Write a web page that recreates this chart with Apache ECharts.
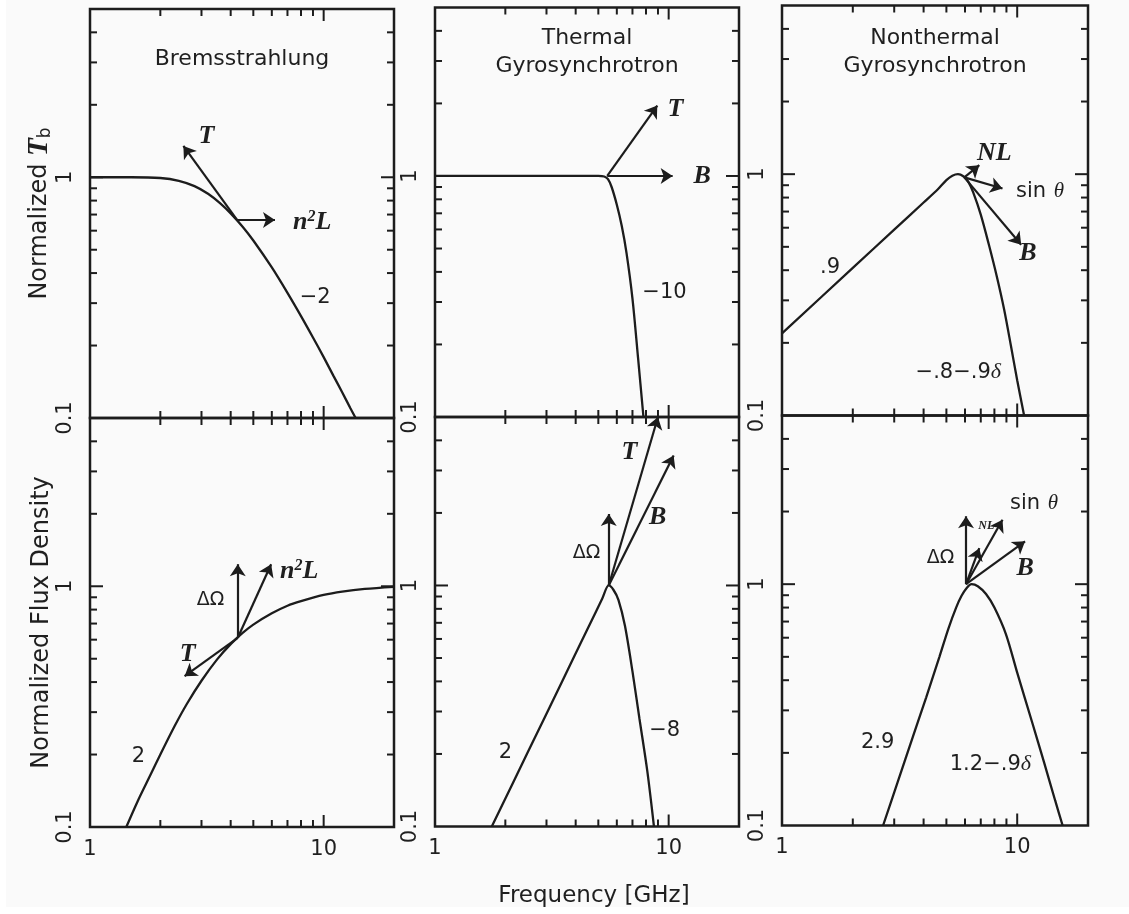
<!DOCTYPE html>
<html>
<head>
<meta charset="utf-8">
<title>Radio emission mechanisms</title>
<script src="https://cdn.jsdelivr.net/npm/echarts@6/dist/echarts.min.js"></script>
<style>
  html, body { margin: 0; padding: 0; background: #fafafa; }
  #chart { width: 1129px; height: 914px; }
</style>
</head>
<body>
<div id="chart"></div>
<script>
// ---- axes (log scaled) ----
const freqRange = [1, 20];            // GHz
const levelRange = [0.1, 5];          // normalised units
const freqLabels = [1, 10];
const levelLabels = [0.1, 1];
const freqMinorTicks = [2, 3, 4, 5, 6, 7, 8, 9];
const freqMajorTicks = [10];
const levelMinorTicks = [0.2, 0.3, 0.4, 0.5, 0.6, 0.7, 0.8, 0.9, 2, 3, 4];
const levelMajorTicks = [1];

// ---- brightness temperature spectra ----
const bremsTbFreq = [1, 1.5, 2, 2.4, 2.8, 3.2, 3.6, 4.0, 4.5, 5, 6, 7, 8, 9, 10, 11, 12, 13, 13.7];
const bremsTbVal  = [1.0, 1.0, 0.993, 0.967, 0.919, 0.854, 0.781, 0.708, 0.623, 0.546, 0.422, 0.331, 0.265, 0.216, 0.179, 0.150, 0.128, 0.110, 0.100];

const thermTbFreq = [1, 2, 3, 4, 5, 5.3, 5.5, 5.7, 6.0, 6.3, 6.6, 7.0, 7.4, 7.8];
const thermTbVal  = [1, 1, 1, 1, 1, 0.995, 0.97, 0.90, 0.76, 0.62, 0.48, 0.31, 0.175, 0.10];

const nonthTbFreq = [1, 2, 3, 4, 4.6, 5.0, 5.3, 5.6, 5.9, 6.2, 6.5, 7.0, 7.6, 8.2, 8.8, 9.4, 10.0, 10.7];
const nonthTbVal  = [0.219, 0.409, 0.589, 0.763, 0.866, 0.945, 0.985, 1.0, 0.98, 0.93, 0.84, 0.68, 0.505, 0.375, 0.275, 0.195, 0.14, 0.10];

// ---- flux density spectra ----
const bremsFluxFreq = [1.43, 1.6, 1.8, 2.0, 2.3, 2.6, 3.0, 3.5, 4.0, 4.5, 5, 6, 7, 8, 10, 12, 15, 20];
const bremsFluxVal  = [0.10, 0.128, 0.162, 0.20, 0.262, 0.325, 0.405, 0.497, 0.575, 0.64, 0.693, 0.772, 0.83, 0.867, 0.92, 0.95, 0.975, 0.995];

const thermFluxFreq = [1.75, 2.5, 3.5, 4.5, 5.2, 5.54, 5.8, 6.1, 6.5, 7.0, 7.5, 8.1, 8.65];
const thermFluxVal  = [0.10, 0.204, 0.40, 0.661, 0.883, 1.0, 0.96, 0.87, 0.68, 0.44, 0.28, 0.17, 0.10];

const nonthFluxFreq = [2.69, 3.1, 3.6, 4.1, 4.67, 5.1, 5.5, 5.8, 6.1, 6.4, 6.8, 7.37, 8.0, 8.96, 10, 11.6, 13, 14.5, 15.6];
const nonthFluxVal  = [0.10, 0.151, 0.233, 0.339, 0.50, 0.655, 0.80, 0.895, 0.965, 1.0, 0.98, 0.91, 0.80, 0.62, 0.43, 0.266, 0.183, 0.127, 0.10];

// ---- parameter-dependence arrows: [origin, tip] in (GHz, level) ----
const bremsTbArrows = [[[4.26, 0.665], [2.51, 1.35]], [[4.26, 0.665], [6.19, 0.665]]];
const thermTbArrows = [[[5.46, 1.0], [8.94, 1.96]], [[5.46, 1.0], [10.4, 1.0]]];
const nonthTbArrows = [[[5.96, 0.97], [6.9, 1.09]], [[5.96, 0.97], [8.66, 0.872]], [[5.96, 0.97], [10.4, 0.51]]];
const bremsFluxArrows = [[[4.29, 0.611], [4.29, 1.235]], [[4.29, 0.611], [5.96, 1.235]], [[4.29, 0.611], [2.54, 0.423]]];
const thermFluxArrows = [[[5.54, 1.0], [5.54, 1.98]], [[5.54, 1.0], [9.0, 5.0]], [[5.54, 1.0], [10.5, 3.46]]];
const nonthFluxArrows = [[[6.06, 1.0], [6.06, 1.91]], [[6.06, 1.0], [6.9, 1.41]], [[6.06, 1.0], [8.66, 1.85]], [[6.06, 1.0], [10.8, 1.505]]];

// ---- annotations: [text, GHz, level] ----
const bremsTbNotes = [['{i|T}', 3.15, 1.475], ['{i|n}{sup|2}{i|L}', 8.93, 0.652], ['{s|\u22122}', 9.2, 0.318]];
const thermTbNotes = [['{i|T}', 10.7, 1.9], ['{i|B}', 13.9, 1.0], ['{s|\u221210}', 9.6, 0.329]];
const nonthTbNotes = [['{i|NL}', 7.99, 1.223], ['{s|sin}  {th|\u03b8}', 12.5, 0.85], ['{i|B}', 11.1, 0.469],
                      ['{s|.9}', 1.6, 0.41], ['{s|\u2212.8\u2212.9}{sd|\u03b4}', 5.62, 0.151]];
const bremsFluxNotes = [['{g|\u0394\u03a9}', 3.28, 0.88], ['{i|n}{sup|2}{i|L}', 7.86, 1.155], ['{i|T}', 2.62, 0.52], ['{s|2}', 1.61, 0.196]];
const thermFluxNotes = [['{i|T}', 6.8, 3.56], ['{i|B}', 8.97, 1.915], ['{g|\u0394\u03a9}', 4.45, 1.36], ['{s|2}', 2.0, 0.203], ['{s|\u22128}', 9.61, 0.25]];
const nonthFluxNotes = [['{s|sin}  {th|\u03b8}', 11.8, 2.16], ['{i|B}', 10.8, 1.16], ['{g|\u0394\u03a9}', 4.72, 1.28], ['{tiny|NL}', 7.39, 1.74],
                        ['{s|2.9}', 2.55, 0.22], ['{s|1.2\u2212.9}{sd|\u03b4}', 7.69, 0.179]];

const panelTitles = ['Bremsstrahlung', 'Thermal\nGyrosynchrotron', 'Nonthermal\nGyrosynchrotron'];

// ---- styling ----
const INK = '#1c1c1c';
const TXT = '#1f1f1f';
const SANS = 'DejaVu Sans';
const SERIF = 'Liberation Serif';

const noteRich = {
  i:    { fontFamily: SERIF, fontStyle: 'italic', fontWeight: 'bold', fontSize: 26, color: TXT },
  sup:  { fontFamily: SERIF, fontStyle: 'italic', fontWeight: 'bold', fontSize: 16, color: TXT, verticalAlign: 'top' },
  s:    { fontFamily: SANS, fontSize: 21, color: TXT },
  sd:   { fontFamily: SERIF, fontStyle: 'italic', fontSize: 22, color: TXT },
  th:   { fontFamily: SERIF, fontStyle: 'italic', fontSize: 21, color: TXT },
  g:    { fontFamily: SANS, fontSize: 19, color: TXT },
  tiny: { fontFamily: SERIF, fontStyle: 'italic', fontWeight: 'bold', fontSize: 12, color: TXT }
};

// column geometry (px) and row layout
const cols = [
  { left: 90,  width: 304, top: 9,   h: 409 },
  { left: 435, width: 304, top: 7.5, h: 409.5 },
  { left: 782, width: 306, top: 5.5, h: 410 }
];

const panels = [
  { f: bremsTbFreq,   v: bremsTbVal,   arrows: bremsTbArrows,   notes: bremsTbNotes },
  { f: thermTbFreq,   v: thermTbVal,   arrows: thermTbArrows,   notes: thermTbNotes },
  { f: nonthTbFreq,   v: nonthTbVal,   arrows: nonthTbArrows,   notes: nonthTbNotes },
  { f: bremsFluxFreq, v: bremsFluxVal, arrows: bremsFluxArrows, notes: bremsFluxNotes },
  { f: thermFluxFreq, v: thermFluxVal, arrows: thermFluxArrows, notes: thermFluxNotes },
  { f: nonthFluxFreq, v: nonthFluxVal, arrows: nonthFluxArrows, notes: nonthFluxNotes }
];

const sameLog = (a, b) => Math.abs(Math.log10(a) - Math.log10(b)) < 1e-6;
const labelFmt = list => v => (list.some(t => sameLog(t, v)) ? String(+(+v).toPrecision(6)) : '');

function tickRenderer(params, api) {
  const lb = api.coord([freqRange[0], levelRange[0]]);
  const rt = api.coord([freqRange[1], levelRange[1]]);
  const kids = [];
  const seg = (x1, y1, x2, y2) => kids.push({
    type: 'line', shape: { x1, y1, x2, y2 }, style: { stroke: INK, lineWidth: 2 }
  });
  const xt = (list, len) => list.forEach(val => {
    const x = api.coord([val, levelRange[0]])[0];
    seg(x, lb[1], x, lb[1] - len);
    seg(x, rt[1], x, rt[1] + len);
  });
  const yt = (list, len) => list.forEach(val => {
    const y = api.coord([freqRange[0], val])[1];
    seg(lb[0], y, lb[0] + len, y);
    seg(rt[0], y, rt[0] - len, y);
  });
  xt(freqMinorTicks, 7);
  xt(freqMajorTicks, 12);
  yt(levelMinorTicks, 7);
  yt(levelMajorTicks, 13);
  return { type: 'group', children: kids };
}

const grids = [], xAxes = [], yAxes = [], series = [];

panels.forEach((p, i) => {
  const row = Math.floor(i / 3), col = i % 3, c = cols[col];
  grids.push({
    left: c.left, width: c.width, top: c.top + row * c.h, height: c.h,
    show: true, borderColor: INK, borderWidth: 2.5, backgroundColor: 'transparent'
  });

  const xa = {
    type: 'log', logBase: 10, gridIndex: i, min: freqRange[0], max: freqRange[1],
    axisLine: { show: false }, axisTick: { show: false }, splitLine: { show: false },
    axisLabel: {
      show: row === 1, margin: 12, fontFamily: SANS, fontSize: 21, color: TXT,
      formatter: labelFmt(freqLabels), showMinLabel: true, showMaxLabel: true
    }
  };
  if (i === 4) {
    Object.assign(xa, {
      name: 'Frequency [GHz]', nameLocation: 'middle', nameGap: 58,
      nameTextStyle: { fontFamily: SANS, fontSize: 23, color: TXT, padding: [0, 0, 0, 14] }
    });
  }
  xAxes.push(xa);

  const ya = {
    type: 'log', logBase: 10, gridIndex: i, min: levelRange[0], max: levelRange[1],
    axisLine: { show: false }, axisTick: { show: false }, splitLine: { show: false },
    axisLabel: {
      rotate: 90, margin: 14, fontFamily: SANS, fontSize: 21, color: TXT,
      formatter: labelFmt(levelLabels), showMinLabel: true, showMaxLabel: true
    }
  };
  if (col === 0) {
    Object.assign(ya, {
      name: row === 0 ? 'Normalized {it|T}{sub|b}' : 'Normalized Flux Density',
      nameLocation: 'middle', nameGap: 36,
      nameTextStyle: {
        fontFamily: SANS, fontSize: 24, color: TXT,
        rich: {
          it: { fontFamily: SERIF, fontStyle: 'italic', fontWeight: 'bold', fontSize: 29, color: TXT },
          sub: { fontFamily: SANS, fontSize: 17, color: TXT, verticalAlign: 'bottom' }
        }
      }
    });
  }
  yAxes.push(ya);

  series.push({
    type: 'line', xAxisIndex: i, yAxisIndex: i,
    data: p.f.map((f, k) => [f, p.v[k]]),
    showSymbol: false, smooth: 0.3, silent: true, z: 3,
    lineStyle: { color: INK, width: 2.3 }
  });
  series.push({
    type: 'lines', coordinateSystem: 'cartesian2d', xAxisIndex: i, yAxisIndex: i,
    data: p.arrows.map(a => ({ coords: a })),
    symbol: ['none', 'arrow'], symbolSize: 12, silent: true, z: 4,
    lineStyle: { color: INK, width: 2.2, opacity: 1, curveness: 0 }
  });
  series.push({
    type: 'scatter', xAxisIndex: i, yAxisIndex: i,
    data: p.notes.map(n => ({ name: n[0], value: [n[1], n[2]] })),
    symbol: 'circle', symbolSize: 0.5, itemStyle: { color: '#fafafa', opacity: 1 }, silent: true, z: 5,
    label: {
      show: true, position: 'inside', formatter: q => q.name, color: TXT, opacity: 1,
      textBorderWidth: 0, rich: noteRich
    }
  });
  series.push({
    type: 'custom', xAxisIndex: i, yAxisIndex: i,
    data: [[freqRange[0], levelRange[0]]],
    renderItem: tickRenderer, silent: true, z: 6
  });
});

const titleCenters = [[242, 59], [587, 52], [935, 52]];
const graphic = panelTitles.map((t, k) => ({
  type: 'text', x: titleCenters[k][0], y: titleCenters[k][1], z: 10,
  style: { text: t, align: 'center', verticalAlign: 'middle', fontFamily: SANS, fontSize: 22, lineHeight: 28, fill: TXT }
}));
// paper edges of the scan
graphic.push({ type: 'rect', shape: { x: 0, y: 907, width: 1129, height: 7 }, style: { fill: '#ffffff' }, z: 100 });
graphic.push({ type: 'rect', shape: { x: 0, y: 0, width: 6, height: 914 }, style: { fill: '#ffffff' }, z: 100 });

const chart = echarts.init(document.getElementById('chart'), null, { renderer: 'canvas' });
chart.setOption({
  backgroundColor: '#fafafa',
  animation: false,
  textStyle: { fontFamily: SANS },
  grid: grids,
  xAxis: xAxes,
  yAxis: yAxes,
  series,
  graphic
});
</script>
</body>
</html>
